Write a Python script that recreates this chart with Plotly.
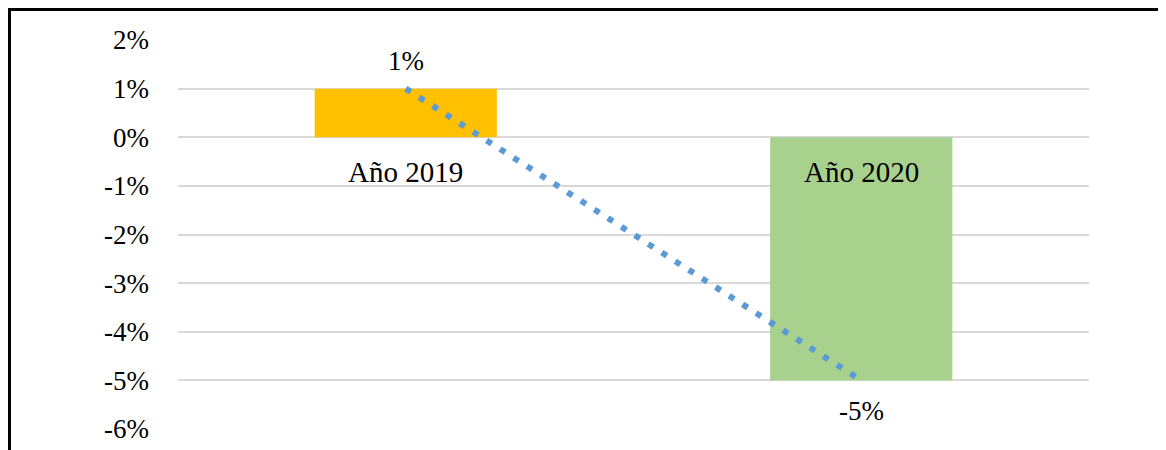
import plotly.graph_objects as go

categories = ["Año 2019", "Año 2020"]
values = [1, -5]          # percent
bar_colors = ["#FFC000", "#A9D18E"]
y_ticks = [2, 1, 0, -1, -2, -3, -4, -5, -6]

FONT = "Liberation Serif, Times New Roman, serif"
FS = 27
FS_CAT = 29

fig = go.Figure()
fig.add_trace(go.Bar(
    x=categories, y=values, marker=dict(color=bar_colors, line=dict(width=0)),
    width=0.4, showlegend=False, hoverinfo="skip",
))
fig.add_trace(go.Scatter(
    x=categories, y=values, mode="lines",
    line=dict(color="#5B9BD5", width=6, dash="6px,10px"),
    showlegend=False, hoverinfo="skip",
))

annotations = []
for c, v in zip(categories, values):
    annotations.append(dict(
        x=c, y=v, xref="x", yref="y", text=f"{v}%", showarrow=False,
        yshift=28 if v >= 0 else -31, yanchor="middle",
        font=dict(family=FONT, size=FS, color="#000000"),
    ))
    annotations.append(dict(
        x=c, y=0, xref="x", yref="y", text=c, showarrow=False,
        yshift=-35, yanchor="middle",
        font=dict(family=FONT, size=FS_CAT, color="#000000"),
    ))

fig.update_layout(
    width=1166, height=450,
    margin=dict(l=170, r=85, t=32, b=29),
    paper_bgcolor="white", plot_bgcolor="white",
    bargap=0.6,
    annotations=annotations,
    font=dict(family=FONT, size=FS, color="#000000"),
    xaxis=dict(showticklabels=False, showgrid=False, zeroline=False,
               showline=False, ticks="", range=[-0.5, 1.5]),
    yaxis=dict(range=[-6, 2], tickvals=y_ticks,
               ticktext=[f"{t}%" for t in y_ticks],
               showgrid=True, gridcolor="#D9D9D9", gridwidth=1.5,
               zeroline=False, showline=False, ticks="",
               ticklabelstandoff=28,
               tickfont=dict(family=FONT, size=FS, color="#000000")),
    shapes=[dict(type="rect", xref="paper", yref="paper",
                 x0=-168.5 / 911, x1=1.5, y0=-1.0, y1=1 + 30.5 / 389,
                 line=dict(color="#000000", width=3), fillcolor="rgba(0,0,0,0)",
                 layer="above")],
)

fig.write_html("out.html")
